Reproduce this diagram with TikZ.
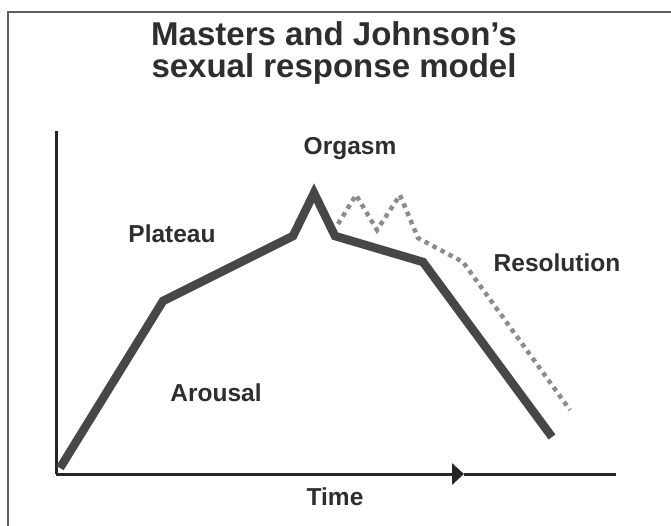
\documentclass[tikz,border=0pt]{standalone}
\usepackage{fontspec}
\setmainfont{Liberation Sans}
\usetikzlibrary{arrows.meta}
\begin{document}
\begin{tikzpicture}[x=1pt,y=-1pt,
  frame/.style={draw=gray!75!black,line width=1.4pt},
  axis/.style={draw=black!85,line width=3pt},
  curve/.style={draw=black!72,line width=8.5pt,line join=miter,miter limit=4},
  dots/.style={draw=black!45,line width=4.5pt,dash pattern=on 4.5pt off 4.5pt},
  lbl/.style={font=\fontsize{24.5}{28}\selectfont\bfseries,text=black!82,inner sep=0pt,anchor=base},
  ttl/.style={font=\fontsize{33}{33}\selectfont\bfseries,text=black!82,inner sep=0pt,anchor=base}]
\useasboundingbox (0,0) rectangle (671,526);
\fill[white] (0,0) rectangle (671,526);
% frame
\coordinate (fbl) at (8,526);
\coordinate (ftl) at (8,12);
\coordinate (ftr) at (671,12);
\draw[frame] (fbl) -- (ftl) -- (ftr);
% title
\node[ttl] (title1) at (334,46) {Masters and Johnson’s};
\node[ttl] (title2) at (334,78) {sexual response model};
% axes
\coordinate (o) at (56,474);
\coordinate (ytop) at (56,131);
\coordinate (atip) at (464,474);
\coordinate (xend) at (616,474);
\draw[axis] (ytop) -- (o);
\draw[axis,-{Triangle[length=12pt,width=21pt]}] (o) -- (atip);
\draw[axis] (atip) -- (xend);
% main curve
\coordinate (p0) at (60,468);
\coordinate (p1) at (163,301);
\coordinate (p2) at (293,236);
\coordinate (p3) at (314,193);
\coordinate (p4) at (335,236);
\coordinate (p5) at (423,262);
\coordinate (p6) at (552,437);
\draw[curve] (p0) -- (p1) -- (p2) -- (p3) -- (p4) -- (p5) -- (p6);
% dotted alternative
\coordinate (d0) at (338,224);
\coordinate (d1) at (356,195);
\coordinate (d2) at (377,230);
\coordinate (d3) at (400,195);
\coordinate (d4) at (418,238);
\coordinate (d5) at (463,262);
\coordinate (d6) at (570,410);
\draw[dots] (d0) -- (d1) -- (d2) -- (d3) -- (d4) -- (d5) -- (d6);
% labels
\node[lbl] (orgasm) at (350,155) {Orgasm};
\node[lbl] (plateau) at (172,243) {Plateau};
\node[lbl] (resolution) at (557,272) {Resolution};
\node[lbl] (arousal) at (216,401) {Arousal};
\node[lbl] (time) at (335,505) {Time};
\end{tikzpicture}
\end{document}
